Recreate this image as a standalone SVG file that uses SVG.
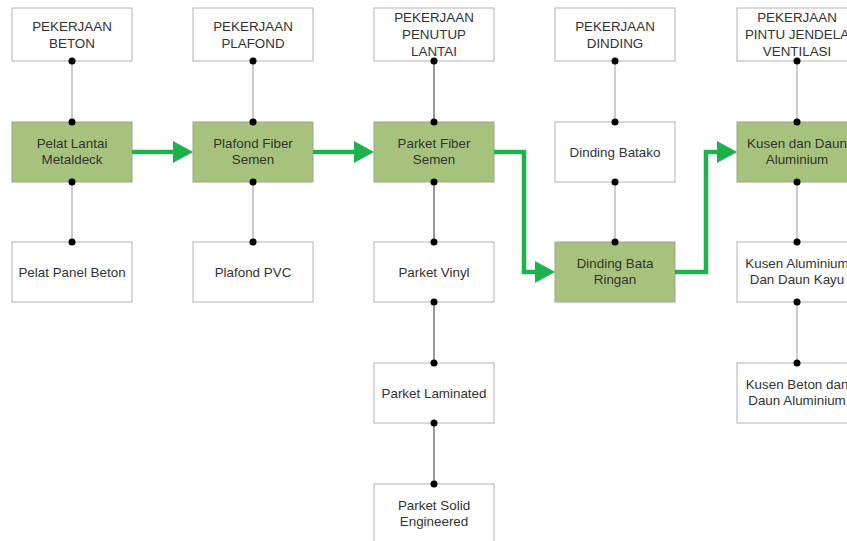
<svg xmlns="http://www.w3.org/2000/svg" width="847" height="541" viewBox="0 0 847 541">
<defs>
<style>
.box{fill:#fff;stroke:#b3b3b3;stroke-width:1}
.g{fill:#a6c27c;stroke:#9aa88a;stroke-width:1}
text{font-family:"Liberation Sans",Arial,sans-serif;font-size:13.4px;fill:#333;text-anchor:middle}
.ln{stroke:#aaa;stroke-width:1.2;fill:none}
.dk{stroke:#555;stroke-width:1.2;fill:none}
.dot{fill:#000}
.ar{stroke:#1eb24e;stroke-width:4.5;fill:none;stroke-linejoin:miter}
.ah{fill:#1eb24e}
</style>
</defs>
<rect width="847" height="541" fill="#fff"/>
<g id="h1"><rect class="box" x="12" y="8" width="120" height="53"/><text x="72" y="30.5">PEKERJAAN</text><text x="72" y="48">BETON</text></g>
<g id="h2"><rect class="box" x="193" y="8" width="120" height="53"/><text x="253" y="30.5">PEKERJAAN</text><text x="253" y="48">PLAFOND</text></g>
<g id="h3"><rect class="box" x="374" y="8" width="120" height="53"/><text x="434" y="21.5">PEKERJAAN</text><text x="434" y="38.5">PENUTUP</text><text x="434" y="55.5">LANTAI</text></g>
<g id="h4"><rect class="box" x="555" y="8" width="120" height="53"/><text x="615" y="30.5">PEKERJAAN</text><text x="615" y="48">DINDING</text></g>
<g id="h5"><rect class="box" x="737" y="8" width="120" height="53"/><text x="797" y="21.5">PEKERJAAN</text><text x="797" y="38.5">PINTU JENDELA</text><text x="797" y="55.5">VENTILASI</text></g>
<g id="n1"><rect class="g" x="12" y="122" width="120" height="60"/><text x="72" y="147.5">Pelat Lantai</text><text x="72" y="164">Metaldeck</text></g>
<g id="n2"><rect class="g" x="193" y="122" width="120" height="60"/><text x="253" y="147.5">Plafond Fiber</text><text x="253" y="164">Semen</text></g>
<g id="n3"><rect class="g" x="374" y="122" width="120" height="60"/><text x="434" y="147.5">Parket Fiber</text><text x="434" y="164">Semen</text></g>
<g id="n4"><rect class="box" x="555" y="122" width="120" height="60"/><text x="615" y="156.5">Dinding Batako</text></g>
<g id="n5"><rect class="g" x="737" y="122" width="120" height="60"/><text x="797" y="147.5">Kusen dan Daun</text><text x="797" y="164">Aluminium</text></g>
<g id="b1"><rect class="box" x="12" y="242" width="120" height="60"/><text x="72" y="277">Pelat Panel Beton</text></g>
<g id="b2"><rect class="box" x="193" y="242" width="120" height="60"/><text x="253" y="277">Plafond PVC</text></g>
<g id="b3"><rect class="box" x="374" y="242" width="120" height="60"/><text x="434" y="277">Parket Vinyl</text></g>
<g id="b4"><rect class="g" x="555" y="242" width="120" height="60"/><text x="615" y="267.5">Dinding Bata</text><text x="615" y="284">Ringan</text></g>
<g id="b5"><rect class="box" x="737" y="242" width="120" height="60"/><text x="797" y="267.5">Kusen Aluminium</text><text x="797" y="284">Dan Daun Kayu</text></g>
<g id="c3"><rect class="box" x="374" y="363" width="120" height="60"/><text x="434" y="397.5">Parket Laminated</text></g>
<g id="c5"><rect class="box" x="737" y="363" width="120" height="60"/><text x="797" y="388.5">Kusen Beton dan</text><text x="797" y="405">Daun Aluminium</text></g>
<g id="d3"><rect class="box" x="374" y="484" width="120" height="60"/><text x="434" y="509.5">Parket Solid</text><text x="434" y="526">Engineered</text></g>
<g id="connectors">
<line class="ln" x1="72" y1="61" x2="72" y2="122"/>
<line class="ln" x1="72" y1="182" x2="72" y2="242"/>
<line class="ln" x1="253" y1="61" x2="253" y2="122"/>
<line class="ln" x1="253" y1="182" x2="253" y2="242"/>
<line class="dk" x1="434" y1="61" x2="434" y2="122"/>
<line class="dk" x1="434" y1="182" x2="434" y2="242"/>
<line class="dk" x1="434" y1="302" x2="434" y2="363"/>
<line class="dk" x1="434" y1="423" x2="434" y2="484"/>
<line class="ln" x1="615" y1="61" x2="615" y2="122"/>
<line class="ln" x1="615" y1="182" x2="615" y2="242"/>
<line class="ln" x1="797" y1="61" x2="797" y2="122"/>
<line class="ln" x1="797" y1="182" x2="797" y2="242"/>
<line class="ln" x1="797" y1="302" x2="797" y2="363"/>
<g class="dot">
<circle cx="72" cy="61" r="3.5"/><circle cx="72" cy="122" r="3.5"/><circle cx="72" cy="182" r="3.5"/><circle cx="72" cy="242" r="3.5"/>
<circle cx="253" cy="61" r="3.5"/><circle cx="253" cy="122" r="3.5"/><circle cx="253" cy="182" r="3.5"/><circle cx="253" cy="242" r="3.5"/>
<circle cx="434" cy="61" r="3.5"/><circle cx="434" cy="122" r="3.5"/><circle cx="434" cy="182" r="3.5"/><circle cx="434" cy="242" r="3.5"/>
<circle cx="434" cy="302" r="3.5"/><circle cx="434" cy="363" r="3.5"/><circle cx="434" cy="423" r="3.5"/><circle cx="434" cy="484" r="3.5"/>
<circle cx="615" cy="61" r="3.5"/><circle cx="615" cy="122" r="3.5"/><circle cx="615" cy="182" r="3.5"/><circle cx="615" cy="242" r="3.5"/>
<circle cx="797" cy="61" r="3.5"/><circle cx="797" cy="122" r="3.5"/><circle cx="797" cy="182" r="3.5"/><circle cx="797" cy="242" r="3.5"/>
<circle cx="797" cy="302" r="3.5"/><circle cx="797" cy="363" r="3.5"/>
</g>
<polyline class="ar" points="132,152 175,152"/>
<polygon class="ah" points="173,141 193,152 173,163"/>
<polyline class="ar" points="313,152 356,152"/>
<polygon class="ah" points="354,141 374,152 354,163"/>
<polyline class="ar" points="494,152 524,152 524,272 537,272"/>
<polygon class="ah" points="535,261 555,272 535,283"/>
<polyline class="ar" points="675,272 706,272 706,152 719,152"/>
<polygon class="ah" points="717,141 737,152 717,163"/>
</g>
</svg>
